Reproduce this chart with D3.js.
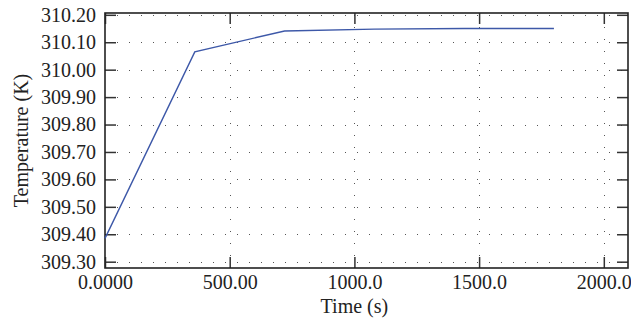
<!DOCTYPE html>
<html>
<head>
<meta charset="utf-8">
<script src="https://cdn.jsdelivr.net/npm/d3@7"></script>
<style>
  html, body { margin: 0; padding: 0; background: #fff; }
  svg { display: block; }
  text { font-family: "Liberation Serif", "DejaVu Serif", serif; fill: #222; }
</style>
</head>
<body>
<svg id="chart" width="631" height="326"></svg>
<script>
// Temperature history (time in seconds, temperature in kelvin)
const timeValues = [0, 360, 720, 1080, 1440, 1800];
const tempValues = [309.385, 310.065, 310.141, 310.148, 310.150, 310.150];

const xTicks = [0, 500, 1000, 1500, 2000];
const xTickLabels = ["0.0000", "500.00", "1000.0", "1500.0", "2000.0"];
const yTicks = [309.30, 309.40, 309.50, 309.60, 309.70, 309.80, 309.90, 310.00, 310.10, 310.20];
const yTickLabels = ["309.30", "309.40", "309.50", "309.60", "309.70", "309.80", "309.90", "310.00", "310.10", "310.20"];

const svg = d3.select("#chart");
const margin = { left: 105, top: 13, right: 3, bottom: 58 };
const W = 631, H = 326;
const iw = W - margin.left - margin.right;
const ih = H - margin.top - margin.bottom;
const serif = "'Liberation Serif', 'DejaVu Serif', serif";

const x = d3.scaleLinear().domain([0, 2097]).range([0, iw]);
const y = d3.scaleLinear().domain([309.277, 310.2066]).range([ih, 0]);

const g = svg.append("g").attr("transform", `translate(${margin.left},${margin.top})`);

// dotted grid
const grid = g.append("g").attr("stroke", "#555").attr("stroke-width", 1)
  .attr("stroke-dasharray", "1,11").attr("fill", "none");
grid.selectAll("line.h").data(yTicks).join("line").attr("class", "h")
  .attr("x1", 0).attr("x2", iw)
  .attr("y1", d => Math.round(y(d)) + 0.5).attr("y2", d => Math.round(y(d)) + 0.5);
grid.selectAll("line.v").data(xTicks.slice(1)).join("line").attr("class", "v")
  .attr("y1", ih).attr("y2", 0)
  .attr("x1", d => Math.round(x(d)) + 0.5).attr("x2", d => Math.round(x(d)) + 0.5);

// axes with inward ticks
const tickLen = 11;
const axLeft = g.append("g").call(d3.axisLeft(y).tickValues(yTicks)
  .tickFormat((d, i) => yTickLabels[i]).tickSizeInner(-tickLen).tickSizeOuter(0).tickPadding(9));
const axRight = g.append("g").attr("transform", `translate(${iw},0)`)
  .call(d3.axisRight(y).tickValues(yTicks).tickFormat("").tickSizeInner(-tickLen).tickSizeOuter(0));
const axBottom = g.append("g").attr("transform", `translate(0,${ih})`)
  .call(d3.axisBottom(x).tickValues(xTicks)
  .tickFormat((d, i) => xTickLabels[i]).tickSizeInner(-tickLen).tickSizeOuter(0).tickPadding(7));
const axTop = g.append("g")
  .call(d3.axisTop(x).tickValues(xTicks).tickFormat("").tickSizeInner(-tickLen).tickSizeOuter(0));

[axLeft, axRight, axBottom, axTop].forEach(a => {
  a.select(".domain").remove();
  a.attr("font-family", serif).attr("font-size", 20);
  a.selectAll(".tick line").attr("stroke", "#333").attr("stroke-width", 1.5);
  a.selectAll(".tick text").attr("fill", "#222");
});

// frame
g.append("rect").attr("x", 0).attr("y", 0).attr("width", iw).attr("height", ih)
  .attr("fill", "none").attr("stroke", "#222").attr("stroke-width", 1.6);

// temperature curve
const line = d3.line().x((d, i) => x(timeValues[i])).y(d => y(d));
g.append("path").datum(tempValues).attr("d", line)
  .attr("fill", "none").attr("stroke", "#3d58a8").attr("stroke-width", 1.4);

// axis titles
svg.append("text").attr("x", margin.left + x(1000)).attr("y", 313)
  .attr("text-anchor", "middle").attr("font-family", serif).attr("font-size", 20).text("Time (s)");
svg.append("text").attr("transform", `translate(28,${margin.top + ih / 2}) rotate(-90)`)
  .attr("text-anchor", "middle").attr("font-family", serif).attr("font-size", 20).text("Temperature (K)");
</script>
</body>
</html>
